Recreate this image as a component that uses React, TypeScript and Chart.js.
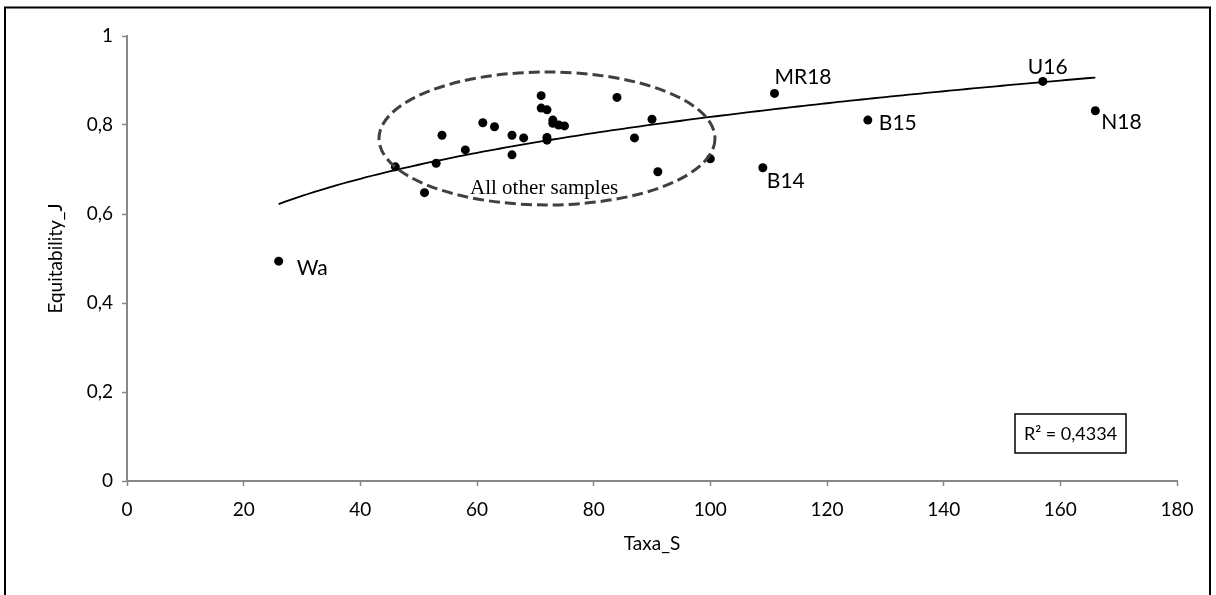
import React, { useEffect, useRef } from "react";
import { Chart, registerables } from "chart.js";

Chart.register(...registerables);

// Species richness (Taxa_S) and Pielou evenness (Equitability_J) per sample
const taxaS = [
  26, 46, 51, 53, 54, 58, 61, 63, 66, 66, 68, 71, 71, 72, 72, 72, 73, 73, 74, 75,
  84, 87, 90, 91, 100, 109, 111, 127, 157, 166,
];
const equitabilityJ = [
  0.494, 0.706, 0.648, 0.714, 0.777, 0.744, 0.805, 0.796, 0.777, 0.733, 0.771,
  0.866, 0.838, 0.834, 0.772, 0.766, 0.811, 0.804, 0.8, 0.798, 0.862, 0.771,
  0.813, 0.695, 0.724, 0.704, 0.871, 0.811, 0.898, 0.832,
];
const sampleNames = [
  "Wa", "", "", "", "", "", "", "", "", "", "", "", "", "", "", "", "", "", "", "",
  "", "", "", "", "", "B14", "MR18", "B15", "U16", "N18",
];

// Power trendline y = c * x^b
const trendCoefC = 0.3212;
const trendCoefB = 0.203;

const xTickValues = [0, 20, 40, 60, 80, 100, 120, 140, 160, 180];
const yTickValues = [0, 0.2, 0.4, 0.6, 0.8, 1];

const xTitle = "Taxa_S";
const yTitle = "Equitability_J";
const groupLabel = "All other samples";
const r2Label = "R² = 0,4334";

// Placement of the sample name next to its dot (pixels)
const labelOffsets: Record<string, { dx: number; dy: number }> = {
  Wa: { dx: 18, dy: 7 },
  MR18: { dx: 0, dy: -16 },
  B15: { dx: 11, dy: 3 },
  B14: { dx: 4, dy: 14 },
  U16: { dx: -15, dy: -14 },
  N18: { dx: 6, dy: 11 },
};

const SANS = "Lato, 'Noto Sans', sans-serif";
const SERIF = "'Liberation Serif', 'DejaVu Serif', serif";

function trendPoints() {
  const lo = Math.min(...taxaS);
  const hi = Math.max(...taxaS);
  const pts: { x: number; y: number }[] = [];
  const steps = 140;
  for (let i = 0; i <= steps; i++) {
    const x = lo + ((hi - lo) * i) / steps;
    pts.push({ x, y: trendCoefC * Math.pow(x, trendCoefB) });
  }
  return pts;
}

const fmt = (v: number) => {
  const r = Math.round(v * 10) / 10;
  return (Number.isInteger(r) ? String(r) : r.toFixed(1)).replace(".", ",");
};

const decorations = {
  id: "decorations",
  afterDatasetsDraw(chart: any) {
    const { ctx, scales, chartArea } = chart;
    const xs = scales.x;
    const ys = scales.y;
    ctx.save();

    // dashed ellipse around the main cluster
    const cx = xs.getPixelForValue(72);
    const cy = ys.getPixelForValue(0.7697);
    const rx = xs.getPixelForValue(72 + 28.8) - cx;
    const ry = cy - ys.getPixelForValue(0.7697 + 0.1494);
    ctx.beginPath();
    ctx.setLineDash([11, 5]);
    ctx.lineWidth = 3;
    ctx.strokeStyle = "#404040";
    ctx.ellipse(cx, cy, rx, ry, 0, 0, Math.PI * 2);
    ctx.stroke();
    ctx.setLineDash([]);

    ctx.fillStyle = "#000";
    ctx.font = `21px ${SERIF}`;
    ctx.textAlign = "center";
    ctx.textBaseline = "middle";
    ctx.fillText(groupLabel, xs.getPixelForValue(71.5), ys.getPixelForValue(0.658));

    // sample names
    ctx.font = `21px ${SANS}`;
    ctx.textAlign = "left";
    ctx.textBaseline = "middle";
    sampleNames.forEach((name, i) => {
      if (!name) return;
      const off = labelOffsets[name] || { dx: 6, dy: 0 };
      const px = xs.getPixelForValue(taxaS[i]);
      const py = ys.getPixelForValue(equitabilityJ[i]);
      ctx.fillText(name, px + off.dx, py + off.dy);
    });

    // R² box
    const bw = 111, bh = 39;
    const bx = chartArea.right - 51 - bw;
    const by = chartArea.bottom - 28 - bh;
    ctx.lineWidth = 1.5;
    ctx.strokeStyle = "#000";
    ctx.strokeRect(bx, by, bw, bh);
    ctx.font = `18px ${SANS}`;
    ctx.textAlign = "center";
    ctx.fillText(r2Label, bx + bw / 2, by + bh / 2 + 1);

    // outer frame
    ctx.lineWidth = 2;
    ctx.strokeRect(5, 7.5, chart.width - 11, chart.height + 20);
    ctx.restore();
  },
};

export default function App() {
  const canvasRef = useRef<HTMLCanvasElement | null>(null);

  useEffect(() => {
    if (!canvasRef.current) return;
    const points = taxaS.map((x, i) => ({ x, y: equitabilityJ[i] }));
    const chart = new Chart(canvasRef.current, {
      type: "scatter",
      data: {
        datasets: [
          {
            label: "Trend",
            data: trendPoints(),
            showLine: true,
            pointRadius: 0,
            borderColor: "#000",
            borderWidth: 1.8,
            tension: 0,
          },
          {
            label: "Samples",
            data: points,
            pointRadius: 4.5,
            pointBackgroundColor: "#000",
            pointBorderColor: "#000",
            pointBorderWidth: 0,
          },
        ],
      },
      options: {
        responsive: false,
        animation: false,
        events: [],
        layout: { padding: { left: 40, right: 39, top: 36, bottom: 36 } },
        plugins: { legend: { display: false }, tooltip: { enabled: false } },
        scales: {
          x: {
            type: "linear",
            min: 0,
            max: 180,
            afterBuildTicks: (s: any) => {
              s.ticks = xTickValues.map((v) => ({ value: v }));
            },
            afterFit: (s: any) => {
              s.height = 78;
            },
            ticks: {
              color: "#000",
              font: { family: SANS, size: 19 },
              padding: 12,
              maxRotation: 0,
              callback: (v: any) => fmt(Number(v)),
            },
            grid: {
              drawOnChartArea: false,
              drawTicks: true,
              tickLength: 5,
              tickColor: "#888",
              tickWidth: 1.5,
            },
            border: { color: "#888", width: 2 },
            title: {
              display: true,
              text: xTitle,
              color: "#000",
              font: { family: SANS, size: 19 },
            },
          },
          y: {
            type: "linear",
            min: 0,
            max: 1,
            afterBuildTicks: (s: any) => {
              s.ticks = yTickValues.map((v) => ({ value: v }));
            },
            afterFit: (s: any) => {
              s.width = 87;
            },
            ticks: {
              color: "#000",
              font: { family: SANS, size: 19 },
              padding: 9,
              callback: (v: any) => fmt(Number(v)),
            },
            grid: {
              drawOnChartArea: false,
              drawTicks: true,
              tickLength: 5,
              tickColor: "#888",
              tickWidth: 1.5,
            },
            border: { color: "#888", width: 2 },
            title: {
              display: true,
              text: yTitle,
              color: "#000",
              font: { family: SANS, size: 19 },
            },
          },
        },
      },
      plugins: [decorations],
    });
    return () => chart.destroy();
  }, []);

  return (
    <div style={{ position: "fixed", left: 0, top: 0, width: 1216, height: 595, background: "#fff" }}>
      <canvas ref={canvasRef} width={1216} height={595} />
    </div>
  );
}
